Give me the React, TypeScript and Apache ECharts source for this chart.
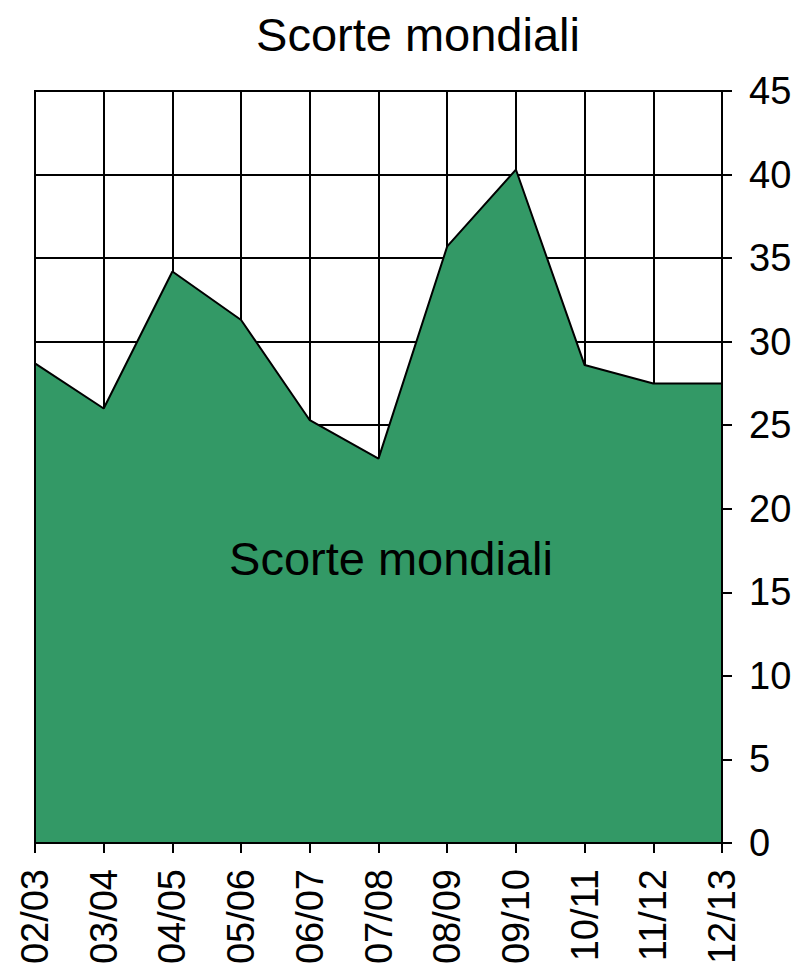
import { useEffect, useRef } from 'react';
import * as echarts from 'echarts';

const categories = ['02/03', '03/04', '04/05', '05/06', '06/07', '07/08', '08/09', '09/10', '10/11', '11/12', '12/13'];
const stockValues = [28.7, 26.0, 34.2, 31.3, 25.3, 23.0, 35.7, 40.3, 28.6, 27.5, 27.5];
const yMin = 0;
const yMax = 45;
const yStep = 5;
const titleText = 'Scorte mondiali';
const seriesLabel = 'Scorte mondiali';

const FONT = "'Liberation Sans', Arial, Helvetica, sans-serif";

export default function App() {
  const ref = useRef<HTMLDivElement>(null);
  useEffect(() => {
    if (!ref.current) return;
    const chart = echarts.init(ref.current, null, { renderer: 'svg' });
    chart.setOption({
      animation: false,
      backgroundColor: '#ffffff',
      title: {
        text: titleText,
        left: 413,
        top: 6,
        textAlign: 'center',
        textStyle: { fontFamily: FONT, fontSize: 47, fontWeight: 'normal', color: '#000' },
      },
      grid: {
        show: true,
        z: 5,
        left: 35,
        right: 83,
        top: 91,
        bottom: 127,
        backgroundColor: 'transparent',
        borderColor: '#000',
        borderWidth: 2,
      },
      xAxis: {
        type: 'category',
        data: categories,
        boundaryGap: false,
        axisLine: { show: true, lineStyle: { color: '#000', width: 2 } },
        axisTick: { show: true, length: 10, inside: false, lineStyle: { color: '#000', width: 2 } },
        axisLabel: {
          interval: 0,
          rotate: 90,
          margin: 26,
          color: '#000',
          fontFamily: FONT,
          fontSize: 38,
        },
        splitLine: { show: true, lineStyle: { color: '#000', width: 2 } },
      },
      yAxis: {
        type: 'value',
        position: 'right',
        min: yMin,
        max: yMax,
        interval: yStep,
        axisLine: { show: true, lineStyle: { color: '#000', width: 2 } },
        axisTick: { show: true, length: 10, inside: false, lineStyle: { color: '#000', width: 2 } },
        axisLabel: { margin: 27, color: '#000', fontFamily: FONT, fontSize: 38 },
        splitLine: { show: true, lineStyle: { color: '#000', width: 2 } },
      },
      series: [
        {
          type: 'line',
          name: seriesLabel,
          data: stockValues,
          symbol: 'none',
          z: 2,
          lineStyle: { color: '#000', width: 2 },
          areaStyle: { color: '#339966', opacity: 1 },
        },
      ],
      graphic: [
        {
          type: 'text',
          x: 391,
          y: 558,
          z: 10,
          style: {
            text: seriesLabel,
            fill: '#000',
            fontFamily: FONT,
            fontSize: 47,
            align: 'center',
            verticalAlign: 'middle',
          },
        },
      ],
    });
    return () => chart.dispose();
  }, []);
  return <div ref={ref} style={{ position: 'fixed', left: 0, top: 0, width: 805, height: 970 }} />;
}
